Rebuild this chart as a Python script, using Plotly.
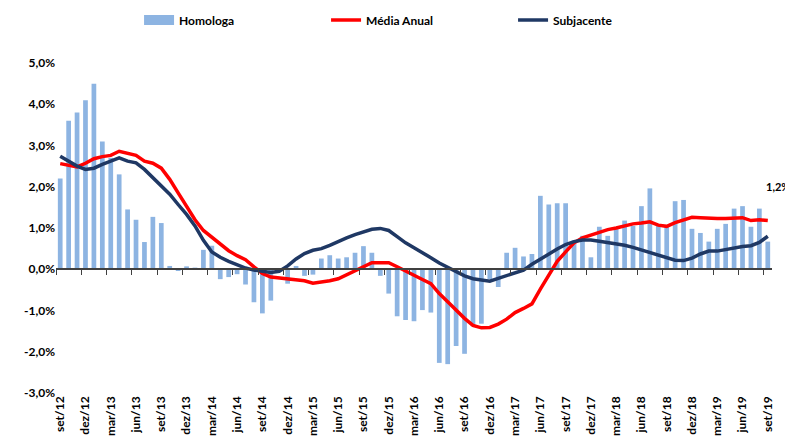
import plotly.graph_objects as go

months = ["set", "out", "nov", "dez", "jan", "fev", "mar", "abr", "mai", "jun", "jul", "ago"]
categories = []
year = 12
for i in range(85):
    m = months[i % 12]
    if m == "jan":
        year += 1
    categories.append(f"{m}/{year}")

homologa = [2.2, 3.6, 3.8, 4.1, 4.5, 3.1, 2.7, 2.3, 1.45, 1.2,
            0.66, 1.27, 1.12, 0.08, -0.03, 0.07, 0.04, 0.47, 0.57, -0.24,
            -0.19, -0.12, -0.37, -0.8, -1.07, -0.76, -0.05, -0.35, 0.08, -0.16,
            -0.13, 0.26, 0.34, 0.26, 0.29, 0.4, 0.56, 0.4, -0.16, -0.59,
            -1.14, -1.23, -1.26, -0.99, -1.05, -2.27, -2.3, -1.86, -2.05, -1.38,
            -1.32, -0.24, -0.43, 0.4, 0.52, 0.31, 0.37, 1.78, 1.57, 1.6,
            1.6, 0.7, 0.81, 0.29, 1.03, 0.81, 0.98, 1.18, 1.05, 1.53,
            1.96, 1.05, 1.05, 1.65, 1.68, 0.98, 0.88, 0.67, 0.98, 1.1,
            1.47, 1.53, 1.03, 1.47, 0.67]

media_anual = [2.56, 2.52, 2.48, 2.57, 2.68, 2.73, 2.76, 2.86, 2.81, 2.76,
               2.62, 2.57, 2.45, 2.18, 1.85, 1.51, 1.2, 0.94, 0.78, 0.61,
               0.45, 0.33, 0.23, 0.06, -0.1, -0.19, -0.21, -0.23, -0.25, -0.28,
               -0.34, -0.32, -0.28, -0.23, -0.13, -0.04, 0.08, 0.16, 0.16, 0.16,
               0.06, -0.05, -0.15, -0.25, -0.35, -0.59, -0.79, -0.99, -1.19, -1.36,
               -1.42, -1.41, -1.33, -1.21, -1.05, -0.95, -0.84, -0.48, -0.13, 0.19,
               0.42, 0.64, 0.76, 0.83, 0.9, 0.96, 1.0, 1.06, 1.1, 1.12,
               1.15, 1.07, 1.04, 1.13, 1.2, 1.26, 1.25, 1.23, 1.23, 1.23,
               1.25, 1.25, 1.18, 1.2, 1.18]

subjacente = [2.74, 2.62, 2.5, 2.42, 2.45, 2.54, 2.63, 2.7, 2.62, 2.58,
              2.42, 2.22, 2.02, 1.82, 1.57, 1.33, 1.05, 0.7, 0.42, 0.29,
              0.19, 0.1, 0.03, -0.02, -0.06, -0.08, -0.05, 0.08, 0.25, 0.38,
              0.46, 0.5, 0.58, 0.68, 0.76, 0.84, 0.91, 0.97, 0.99, 0.94,
              0.79, 0.64, 0.52, 0.41, 0.28, 0.15, 0.05, -0.05, -0.16, -0.23,
              -0.27, -0.29, -0.22, -0.16, -0.1, -0.02, 0.12, 0.25, 0.38, 0.49,
              0.6, 0.67, 0.71, 0.71, 0.68, 0.65, 0.62, 0.58, 0.53, 0.47,
              0.4, 0.33, 0.27, 0.22, 0.21, 0.27, 0.37, 0.44, 0.44, 0.48,
              0.52, 0.55, 0.57, 0.65, 0.8]

y_ticks = [5, 4, 3, 2, 1, 0, -1, -2, -3]
y_labels = ["5,0%", "4,0%", "3,0%", "2,0%", "1,0%", "0,0%", "-1,0%", "-2,0%", "-3,0%"]
last_label = "1,2%"

x = list(range(len(categories)))
label_idx = list(range(0, len(categories), 3))
FONT = "Lato"
BAR_COLOR = "#8DB4E2"

fig = go.Figure()
fig.add_trace(go.Bar(x=x, y=homologa, name="Homologa", marker=dict(color=BAR_COLOR, line=dict(width=0)),
                     showlegend=False, xaxis="x", yaxis="y"))
# legend swatch for the bars (wide rectangle like the reference)
fig.add_trace(go.Scatter(x=[None], y=[None], name="Homologa", mode="lines",
                         line=dict(color=BAR_COLOR, width=12), xaxis="x", yaxis="y"))
fig.add_trace(go.Scatter(x=x, y=media_anual, name="Média Anual", mode="lines",
                         line=dict(color="#FF0000", width=3.5), xaxis="x", yaxis="y"))
fig.add_trace(go.Scatter(x=x, y=subjacente, name="Subjacente", mode="lines",
                         line=dict(color="#1F3864", width=3.5), xaxis="x", yaxis="y"))
# invisible trace to carry the zero-line axis with boundary ticks
fig.add_trace(go.Scatter(x=[x[0], x[-1]], y=[0, 0], mode="lines", line=dict(width=0),
                         showlegend=False, hoverinfo="skip", xaxis="x2", yaxis="y"))

fig.add_annotation(x=x[-1], y=media_anual[-1], text=f"<b>{last_label}</b>", showarrow=False,
                   xanchor="right", yanchor="middle", xshift=24, yshift=34,
                   font=dict(family=FONT, size=11, color="#000000"))

# page has an 8px body margin, so the figure is 8px smaller and margins shifted
fig.update_layout(
    width=785, height=436,
    margin=dict(l=48, r=21, t=55, b=51, autoexpand=False),
    paper_bgcolor="white", plot_bgcolor="white",
    bargap=0.44,
    font=dict(family=FONT, size=12, color="#000000"),
    legend=dict(orientation="h", x=0.116, xanchor="left", y=1.174, yanchor="top",
                entrywidth=142, entrywidthmode="pixels",
                font=dict(family=FONT, size=12, color="#000000", weight="bold"),
                itemwidth=30, traceorder="normal"),
    xaxis=dict(range=[-0.5, len(categories) - 0.5], tickmode="array", tickvals=label_idx,
               ticktext=[categories[i] for i in label_idx], tickangle=-90, ticks="",
               showline=False, showgrid=False, zeroline=False, automargin=False,
               tickfont=dict(family=FONT, size=12, color="#000000", weight="bold")),
    xaxis2=dict(range=[-0.5, len(categories) - 0.5], overlaying="x", anchor="free", position=0.375,
                side="bottom", tickmode="array", tickvals=[i - 0.5 for i in label_idx],
                showticklabels=False, ticks="outside", ticklen=5, tickwidth=1.3, tickcolor="#404040",
                showline=True, linecolor="#404040", linewidth=1.5, showgrid=False, zeroline=False),
    yaxis=dict(range=[-3, 5], tickmode="array", tickvals=y_ticks, ticktext=y_labels,
               showgrid=False, zeroline=False, showline=False, ticks="", automargin=False,
               tickfont=dict(family=FONT, size=12, color="#000000", weight="bold")),
)

fig.write_html("out.html")
